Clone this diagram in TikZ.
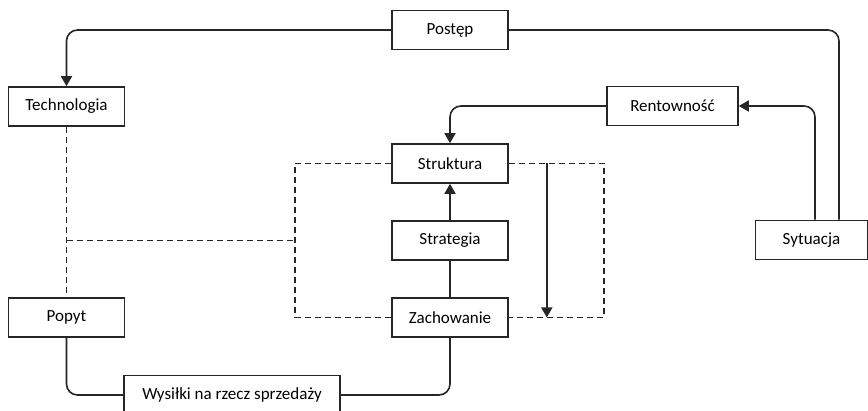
\documentclass[tikz,border=0pt]{standalone}
\usepackage{fontspec}
\setmainfont{Carlito}
\usetikzlibrary{arrows.meta,positioning}
\definecolor{linegray}{HTML}{262626}

\begin{document}
\begin{tikzpicture}[
  x=1pt, y=-1pt,
  >={Triangle[length=10pt,width=11pt]},
  line width=1.6pt,
  factor/.style={rectangle, draw=linegray, minimum width=116pt, minimum height=39pt, inner sep=0pt, font=\fontsize{17}{20}\selectfont},
  link/.style={draw=linegray, rounded corners=11pt},
  dashlink/.style={draw=linegray, dash pattern=on 6pt off 4pt}
]
  \useasboundingbox (0,0) rectangle (868,411);

  \node[factor] (postep) at (450,30) {Postęp};
  \node[factor] (technologia) at (66.5,106.5) {Technologia};
  \node[factor, minimum width=131pt] (rentownosc) at (672.5,106) {Rentowność};
  \node[factor] (struktura) at (450,163.5) {Struktura};
  \node[factor] (strategia) at (450,240.5) {Strategia};
  \node[factor, minimum width=112pt] (sytuacja) at (811.5,240) {Sytuacja};
  \node[factor] (popyt) at (66.5,317.5) {Popyt};
  \node[factor] (zachowanie) at (450,317.5) {Zachowanie};
  \node[factor, minimum width=216pt] (wysilki) at (232,395) {Wysiłki na rzecz sprzedaży};

  \coordinate (sytleft) at ([xshift=3.5pt]sytuacja.north);
  \coordinate (sytright) at ([xshift=27.5pt]sytuacja.north);
  \coordinate (feedtop) at ([xshift=38pt]struktura.east);
  \coordinate (loopright) at ([xshift=95pt]struktura.east);
  \coordinate (loopleft) at ([xshift=-96pt]struktura.west);

  \draw[link,->] (postep.west) -| (technologia.north);
  \draw[link] (postep.east) -| (sytright);
  \draw[link,->] (sytleft) |- (rentownosc.east);
  \draw[link,->] (rentownosc.west) -| (struktura.north);
  \draw[link,->] (strategia) -- (struktura);
  \draw[link] (zachowanie) -- (strategia);
  \draw[link,->] (feedtop) -- (feedtop |- zachowanie.east);

  \draw[dashlink] (struktura.east) -- (loopright) |- (zachowanie.east);
  \draw[dashlink] (struktura.west) -- (loopleft) |- (zachowanie.west);
  \draw[dashlink] (technologia) -- (popyt);
  \draw[dashlink] (technologia.south |- strategia) -- (loopleft |- strategia);

  \draw[link] (popyt.south) |- (wysilki.west);
  \draw[link] (wysilki.east) -| (zachowanie.south);
\end{tikzpicture}
\end{document}
